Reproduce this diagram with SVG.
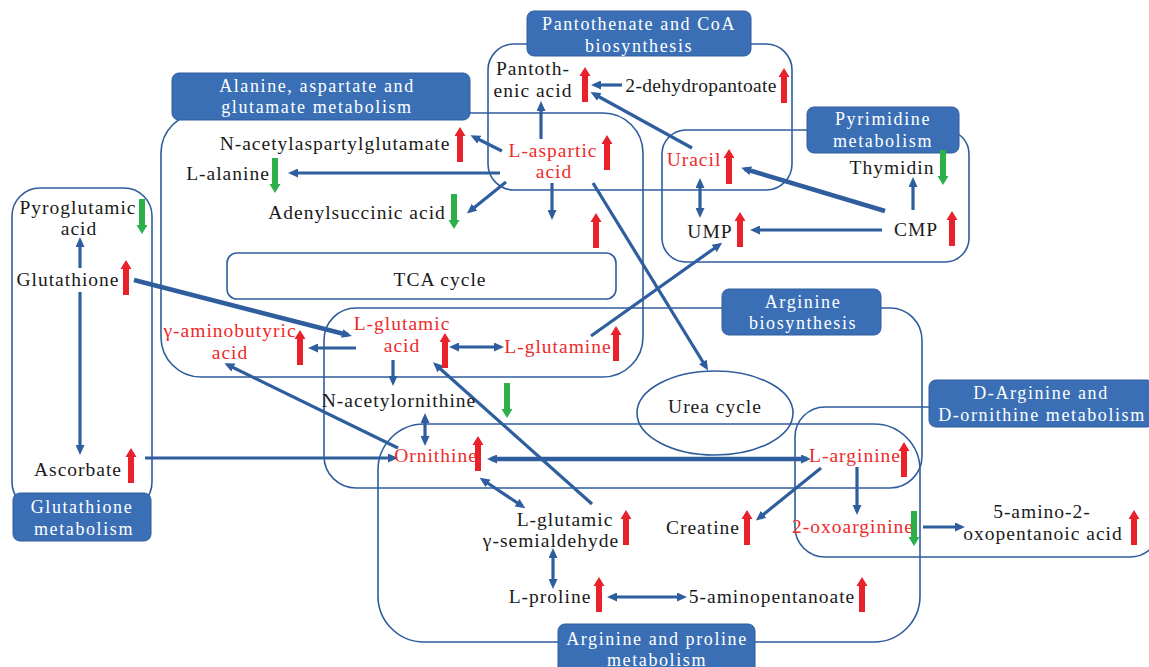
<svg xmlns="http://www.w3.org/2000/svg" width="1149" height="667" viewBox="0 0 1149 667">
<defs>
<style>
.box{fill:none;stroke:#2F5D9C;stroke-width:1.6}
.lab{fill:#3A6FB6;stroke:#2F5D9C;stroke-width:1}
.lt{font-family:"Liberation Serif",serif;font-size:18px;fill:#ffffff;letter-spacing:1.6px;text-anchor:middle}
.t{font-family:"Liberation Serif",serif;font-size:19.5px;fill:#1a1a1a;letter-spacing:1px;text-anchor:middle}
.t.r{fill:#EE2A2A}
.t.n{letter-spacing:0.3px}
.c{stroke:#2F5E9E;stroke-width:3.2;fill:none;marker-end:url(#ah)}
.c.d{marker-start:url(#ah)}
.c.k{stroke-width:4.5}
.up{fill:#E8212A}
.dn{fill:#2DB04A}
</style>
<marker id="ah" viewBox="0 0 10 9" refX="6" refY="4.5" markerWidth="10" markerHeight="9" markerUnits="userSpaceOnUse" orient="auto-start-reverse"><path d="M0,0 L10,4.5 L0,9 z" fill="#2F5E9E"/></marker>
<path id="ua" d="M0,0 L5.5,9 L3,9 L3,35 L-3,35 L-3,9 L-5.5,9 Z"/>
<path id="da" d="M0,35 L5.5,26 L3,26 L3,0 L-3,0 L-3,26 L-5.5,26 Z"/>
</defs>
<rect width="1149" height="667" fill="#ffffff"/>

<g id="pathway-boxes">
<rect id="box-glutathione" class="box" x="12" y="188" width="140" height="322" rx="28"/>
<rect id="box-alanine" class="box" x="161" y="113" width="482" height="264" rx="40"/>
<rect id="box-pantothenate" class="box" x="488" y="44" width="304" height="146" rx="26"/>
<rect id="box-pyrimidine" class="box" x="662" y="130" width="307" height="132" rx="24"/>
<rect id="box-tca" class="box" x="227" y="253" width="389" height="46" rx="10"/>
<rect id="box-arg-bio" class="box" x="324" y="308" width="598" height="180" rx="32"/>
<rect id="box-arg-pro" class="box" x="378" y="424" width="542" height="218" rx="46"/>
<rect id="box-darg" class="box" x="795" y="407" width="365" height="150" rx="30"/>
<ellipse id="urea-cycle-shape" class="box" cx="715" cy="413" rx="78" ry="42"/>
</g>

<g id="pathway-labels">
<g id="lab-glutathione"><rect class="lab" x="13" y="493" width="138" height="48" rx="7"/><text class="lt" x="82" y="513">Glutathione</text><text class="lt" x="84" y="535">metabolism</text></g>
<g id="lab-alanine"><rect class="lab" x="172" y="73" width="298" height="47" rx="7"/><text class="lt" x="317" y="92">Alanine, aspartate and</text><text class="lt" x="317" y="113">glutamate metabolism</text></g>
<g id="lab-pantothenate"><rect class="lab" x="527" y="11" width="224" height="45" rx="7"/><text class="lt" x="639" y="30">Pantothenate and CoA</text><text class="lt" x="639" y="52">biosynthesis</text></g>
<g id="lab-pyrimidine"><rect class="lab" x="807" y="107" width="152" height="46" rx="7"/><text class="lt" x="883" y="125">Pyrimidine</text><text class="lt" x="883" y="147">metabolism</text></g>
<g id="lab-arg-bio"><rect class="lab" x="722" y="289" width="159" height="46" rx="7"/><text class="lt" x="803" y="308">Arginine</text><text class="lt" x="803" y="329">biosynthesis</text></g>
<g id="lab-darg"><rect class="lab" x="929" y="380" width="225" height="47" rx="7"/><text class="lt" x="1041" y="399">D-Arginine and</text><text class="lt" x="1042" y="421">D-ornithine metabolism</text></g>
<g id="lab-arg-pro"><rect class="lab" x="558" y="624" width="197" height="50" rx="7"/><text class="lt" x="657" y="645">Arginine and proline</text><text class="lt" x="657" y="666">metabolism</text></g>
</g>

<g id="connectors">
<line class="c" x1="622" y1="85" x2="595" y2="85"/>
<line class="c" x1="541" y1="139" x2="541" y2="105"/>
<line class="c" x1="502" y1="151" x2="474" y2="137"/>
<line class="c" x1="500" y1="173" x2="292" y2="173"/>
<line class="c" x1="506" y1="182" x2="470" y2="211"/>
<line class="c" x1="552" y1="183" x2="552" y2="216"/>
<line class="c" x1="593" y1="183" x2="706" y2="367"/>
<line class="c" x1="692" y1="148" x2="594" y2="94"/>
<line class="c d" x1="700" y1="182" x2="700" y2="214"/>
<line class="c k" x1="885" y1="211" x2="745" y2="169"/>
<line class="c" x1="882" y1="230" x2="754" y2="230"/>
<line class="c" x1="913" y1="210" x2="913" y2="181"/>
<line class="c" x1="80" y1="268" x2="80" y2="241"/>
<line class="c" x1="80" y1="292" x2="80" y2="451"/>
<line class="c" x1="145" y1="458" x2="394" y2="458"/>
<line class="c k" x1="134" y1="280" x2="348" y2="335"/>
<line class="c" x1="356" y1="348" x2="312" y2="348"/>
<line class="c" x1="398" y1="448" x2="228" y2="365"/>
<line class="c d" x1="453" y1="347" x2="500" y2="347"/>
<line class="c" x1="591" y1="336" x2="719" y2="245"/>
<line class="c" x1="393" y1="360" x2="393" y2="382"/>
<line class="c d" x1="425" y1="417" x2="425" y2="442"/>
<line class="c" x1="592" y1="504" x2="436" y2="365"/>
<line class="c d k" x1="491" y1="459" x2="807" y2="459"/>
<line class="c d" x1="483" y1="480" x2="522" y2="506"/>
<line class="c d" x1="553" y1="552" x2="553" y2="585"/>
<line class="c d" x1="611" y1="597" x2="683" y2="597"/>
<line class="c" x1="821" y1="468" x2="759" y2="518"/>
<line class="c" x1="857" y1="467" x2="857" y2="511"/>
<line class="c" x1="923" y1="527" x2="961" y2="527"/>
</g>

<g id="n-pantothenic"><text class="t" x="533" y="75">Pantoth-</text><text class="t" x="533" y="97">enic acid</text><use href="#ua" class="up" x="585" y="67"/></g>
<g id="n-dehydropantoate"><text class="t n" x="701" y="92">2-dehydropantoate</text><use href="#ua" class="up" x="784" y="68"/></g>
<g id="n-aspartic"><text class="t r" x="553" y="157">L-aspartic</text><text class="t r" x="554" y="178">acid</text><use href="#ua" class="up" x="607" y="135"/></g>
<g id="n-naag"><text class="t" x="335" y="150">N-acetylaspartylglutamate</text><use href="#ua" class="up" x="460" y="127"/></g>
<g id="n-alanine"><text class="t" x="228" y="180">L-alanine</text><use href="#da" class="dn" x="275" y="158"/></g>
<g id="n-adenylsuccinic"><text class="t" x="357" y="219">Adenylsuccinic acid</text><use href="#da" class="dn" x="454" y="194"/></g>
<g id="n-unlabeled-up"><use href="#ua" class="up" x="596" y="213"/></g>
<g id="n-uracil"><text class="t r" x="694" y="166">Uracil</text><use href="#ua" class="up" x="729" y="149"/></g>
<g id="n-ump"><text class="t" x="710" y="238">UMP</text><use href="#ua" class="up" x="740" y="212"/></g>
<g id="n-cmp"><text class="t" x="916" y="236">CMP</text><use href="#ua" class="up" x="952" y="211"/></g>
<g id="n-thymidin"><text class="t" x="892" y="174">Thymidin</text><use href="#da" class="dn" x="943" y="150"/></g>
<g id="n-pyroglutamic"><text class="t" x="78" y="214">Pyroglutamic</text><text class="t" x="79" y="235">acid</text><use href="#da" class="dn" x="142" y="199"/></g>
<g id="n-glutathione"><text class="t" x="68" y="286">Glutathione</text><use href="#ua" class="up" x="126" y="260"/></g>
<g id="n-ascorbate"><text class="t" x="78" y="476">Ascorbate</text><use href="#ua" class="up" x="131" y="448"/></g>
<g id="n-tca"><text class="t" x="440" y="286">TCA cycle</text></g>
<g id="n-gaba"><text class="t r" x="230" y="337">γ-aminobutyric</text><text class="t r" x="230" y="359">acid</text><use href="#ua" class="up" x="300" y="330"/></g>
<g id="n-glutamic"><text class="t r" x="402" y="330">L-glutamic</text><text class="t r" x="402" y="352">acid</text><use href="#ua" class="up" x="445" y="333"/></g>
<g id="n-glutamine"><text class="t r" x="558" y="353">L-glutamine</text><use href="#ua" class="up" x="616" y="326"/></g>
<g id="n-acetylornithine"><text class="t" x="399" y="407">N-acetylornithine</text></g>
<g id="n-unlabeled-down"><use href="#da" class="dn" x="507" y="383"/></g>
<g id="n-urea"><text class="t" x="715" y="413">Urea cycle</text></g>
<g id="n-ornithine"><text class="t r" x="436" y="462">Ornithine</text><use href="#ua" class="up" x="478" y="436"/></g>
<g id="n-semialdehyde"><text class="t" x="565" y="526">L-glutamic</text><text class="t" x="551" y="547">γ-semialdehyde</text><use href="#ua" class="up" x="626" y="510"/></g>
<g id="n-proline"><text class="t" x="550" y="603">L-proline</text><use href="#ua" class="up" x="599" y="577"/></g>
<g id="n-aminopentanoate"><text class="t" x="772" y="603">5-aminopentanoate</text><use href="#ua" class="up" x="862" y="577"/></g>
<g id="n-creatine"><text class="t" x="703" y="534">Creatine</text><use href="#ua" class="up" x="747" y="510"/></g>
<g id="n-arginine"><text class="t r" x="855" y="462">L-arginine</text><use href="#ua" class="up" x="904" y="442"/></g>
<g id="n-oxoarginine"><text class="t r" x="853" y="533">2-oxoarginine</text><use href="#da" class="dn" x="914" y="511"/></g>
<g id="n-aminooxopentanoic"><text class="t" x="1042" y="518">5-amino-2-</text><text class="t" x="1043" y="540">oxopentanoic acid</text><use href="#ua" class="up" x="1134" y="510"/></g>
</svg>
